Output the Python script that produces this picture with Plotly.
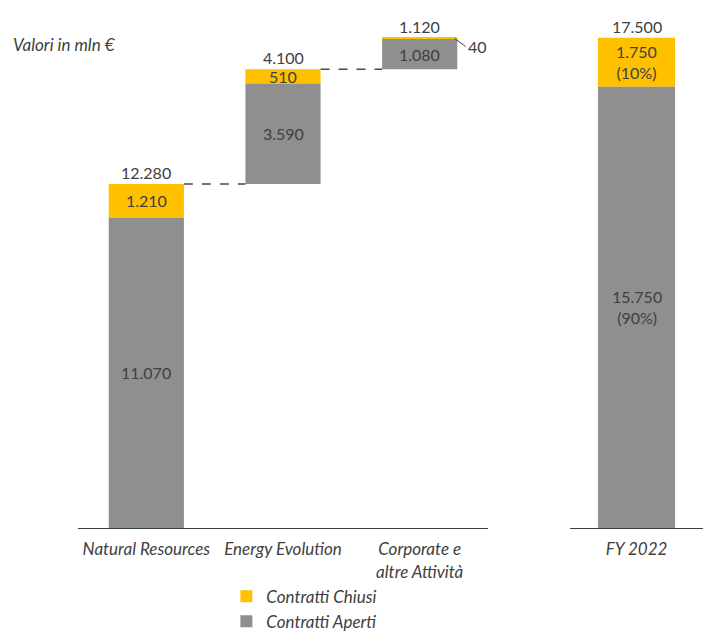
import plotly.graph_objects as go

# Ricavi per settore (valori in mln €)
segments = ["Natural Resources", "Energy Evolution", "Corporate e<br>altre Attività"]
aperti = [11070, 3590, 1080]      # Contratti Aperti
chiusi = [1210, 510, 40]          # Contratti Chiusi
total_label = ["FY 2022"]
total_aperti = [15750]
total_chiusi = [1750]

YELLOW = "#FFC000"
GREY = "#8F8F8F"
TEXT = "#404040"
FONT = "Lato"

def fmt(v):
    return f"{v:,}".replace(",", ".")

# Waterfall bases: each segment starts where the previous one ended
seg_tot = [a + c for a, c in zip(aperti, chiusi)]
bases = []
run = 0
for t in seg_tot:
    bases.append(run)
    run += t
aperti_base = bases
chiusi_base = [b + a for b, a in zip(bases, aperti)]
fy_total = total_aperti[0] + total_chiusi[0]

W_LEFT = 0.55
W_RIGHT = 0.58

fig = go.Figure()

fig.add_trace(go.Bar(
    x=segments, y=chiusi, base=chiusi_base, width=W_LEFT,
    marker=dict(color=YELLOW, line=dict(width=0)),
    name="Contratti Chiusi", legendgroup="c", hoverinfo="skip",
    xaxis="x", yaxis="y"))
fig.add_trace(go.Bar(
    x=segments, y=aperti, base=aperti_base, width=W_LEFT,
    marker=dict(color=GREY, line=dict(width=0)),
    name="Contratti Aperti", legendgroup="a", hoverinfo="skip",
    xaxis="x", yaxis="y"))
fig.add_trace(go.Bar(
    x=total_label, y=total_chiusi, base=total_aperti, width=W_RIGHT,
    marker=dict(color=YELLOW, line=dict(width=0)),
    showlegend=False, hoverinfo="skip", xaxis="x2", yaxis="y"))
fig.add_trace(go.Bar(
    x=total_label, y=total_aperti, base=[0], width=W_RIGHT,
    marker=dict(color=GREY, line=dict(width=0)),
    showlegend=False, hoverinfo="skip", xaxis="x2", yaxis="y"))

ann = []
lab_font = dict(family=FONT, size=16, color=TEXT)
ital_font = dict(family=FONT, size=17, color=TEXT, style="italic")

for i, seg in enumerate(segments):
    # value inside the grey segment
    ann.append(dict(x=seg, y=aperti_base[i] + aperti[i] / 2, xref="x", yref="y",
                    text=fmt(aperti[i]), showarrow=False, font=lab_font))
    # cumulative total above the bar
    ann.append(dict(x=seg, y=bases[i] + seg_tot[i], xref="x", yref="y",
                    text=fmt(seg_tot[i]), showarrow=False, font=lab_font,
                    yanchor="bottom", yshift=0))
    if i < len(segments) - 1:
        ann.append(dict(x=seg, y=chiusi_base[i] + chiusi[i] / 2, xref="x", yref="y",
                        text=fmt(chiusi[i]), showarrow=False, font=lab_font))
    else:
        # thin slice: label sits outside with a leader line
        ann.append(dict(x=i + W_LEFT / 2 - 0.02, y=chiusi_base[i] + chiusi[i] / 2,
                        xref="x", yref="y", text=fmt(chiusi[i]), showarrow=True,
                        arrowhead=0, arrowwidth=1, arrowcolor=TEXT,
                        ax=11, ay=8, xanchor="left", font=lab_font))

# FY 2022 totals with shares
ann.append(dict(x=total_label[0], y=total_aperti[0] / 2, xref="x2", yref="y",
                text=f"{fmt(total_aperti[0])}<br>({round(100 * total_aperti[0] / fy_total)}%)",
                showarrow=False, font=lab_font))
ann.append(dict(x=total_label[0], y=total_aperti[0] + total_chiusi[0] / 2, xref="x2", yref="y",
                text=f"{fmt(total_chiusi[0])}<br>({round(100 * total_chiusi[0] / fy_total)}%)",
                showarrow=False, font=lab_font))
ann.append(dict(x=total_label[0], y=fy_total, xref="x2", yref="y",
                text=fmt(fy_total), showarrow=False, font=lab_font,
                yanchor="bottom", yshift=0))

# subtitle near the top of the page
ann.append(dict(x=0.015, y=1 - 35 / 518, xref="paper", yref="paper", text="Valori in mln €",
                showarrow=False, xanchor="left", yanchor="middle", font=ital_font))

# dashed connectors between consecutive segments
shapes = []
for i in range(len(segments) - 1):
    lvl = bases[i] + seg_tot[i]
    shapes.append(dict(type="line", xref="x", yref="y",
                       x0=i + W_LEFT / 2, x1=i + 1 - W_LEFT / 2, y0=lvl, y1=lvl,
                       line=dict(color="#4a4a4a", width=1.5, dash="dash")))

fig.update_layout(
    width=703, height=631,
    margin=dict(l=0, r=0, t=10, b=103, autoexpand=False),
    paper_bgcolor="white", plot_bgcolor="white",
    barmode="overlay",
    showlegend=True,
    legend=dict(x=0.322, y=0.083, xref="paper", yref="container",
                xanchor="left", yanchor="top",
                traceorder="normal", tracegroupgap=5,
                font=ital_font, bgcolor="rgba(0,0,0,0)"),
    xaxis=dict(domain=[78 / 703, 488 / 703], range=[-0.5, 2.5], anchor="y",
               showline=True, linecolor="#404040", linewidth=1, showgrid=False,
               ticks="", ticklabelstandoff=6, tickfont=ital_font, automargin=False),
    xaxis2=dict(domain=[570 / 703, 1.0], range=[-0.5, 0.5], anchor="y",
                showline=True, linecolor="#404040", linewidth=1, showgrid=False,
                ticks="", ticklabelstandoff=6, tickfont=ital_font, automargin=False),
    yaxis=dict(range=[0, 18493], visible=False, showgrid=False, zeroline=False),
    annotations=ann,
    shapes=shapes,
)

fig.write_html("out.html")
